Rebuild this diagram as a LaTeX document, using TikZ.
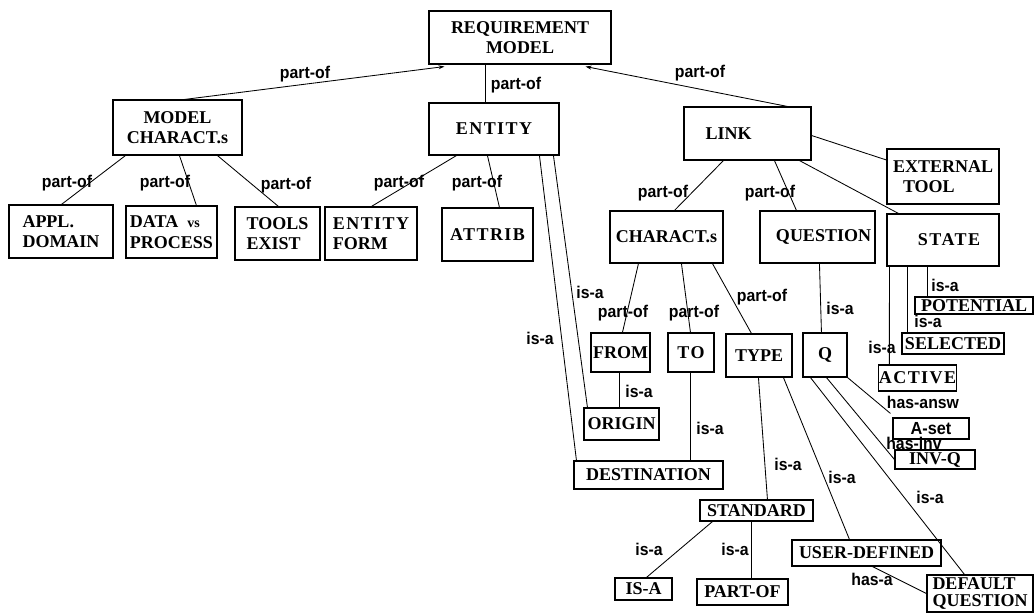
\documentclass[tikz,border=0pt]{standalone}
\usepackage{fontspec}
\setmainfont{Liberation Serif}
\newfontfamily\lblfamily{Liberation Sans}[FakeStretch=0.93]
\newcommand\spacedcaps{\addfontfeature{LetterSpace=8}}
\usetikzlibrary{arrows.meta}
\begin{document}
\begin{tikzpicture}[x=1pt,y=-1pt,
  box/.style={draw, line width=1.1pt, inner sep=0pt, align=center,
    font=\fontsize{18}{20.5}\selectfont\bfseries},
  sized/.style 2 args={minimum width=#1pt, minimum height=#2pt},
  rel/.style={line width=0.85pt},
  up/.style={rel, -{Stealth[length=6pt,width=4pt]}},
  lbl/.style={inner sep=0pt, font=\lblfamily\bfseries\fontsize{17}{18}\selectfont}
]
\useasboundingbox (0,0) rectangle (1035,613);

% ---- boxes ----
\node[box, sized={182}{53}] (req) at (520,37.5) {REQUIREMENT\\MODEL};
\node[box, sized={129}{55}] (mc) at (177.5,127.5) {MODEL\\CHARACT.s};
\node[box, sized={130}{52}] (ent) at (494,129) {\spacedcaps ENTITY};
\node[box, sized={127}{53}] (link) at (747.5,133.5) {LINK\hspace*{38pt}};
\node[box, sized={112}{55}, align=left] (ext) at (943,176.5) {EXTERNAL\\\hspace*{10pt}TOOL};
\node[box, sized={104}{53}, align=left] (appl) at (61,231.5) {APPL.\\DOMAIN};
\node[box, sized={91}{52}, align=left] (data) at (171.5,232) {DATA\ \ {\fontsize{14}{14}\selectfont vs}\\PROCESS};
\node[box, sized={85}{53}, align=left] (tools) at (277.5,233.5) {TOOLS\\EXIST};
\node[box, sized={92}{53}, align=left] (ef) at (371,233.5) {{\spacedcaps ENTITY}\\FORM};
\node[box, sized={91}{53}] (attrib) at (487.5,234.5) {\spacedcaps ATTRIB};
\node[box, sized={113}{52}] (ch) at (666.5,237) {CHARACT.s};
\node[box, sized={115}{52}] (qu) at (817.5,237) {\hspace*{12pt}QUESTION};
\node[box, sized={112}{52}] (state) at (943,240) {\hspace*{12pt}\spacedcaps STATE};
\node[box, sized={59}{39}] (from) at (620.5,352.5) {FROM};
\node[box, sized={46}{39}] (to) at (691,352.5) {\spacedcaps TO};
\node[box, sized={66}{43}] (type) at (759,355.5) {TYPE};
\node[box, sized={44}{44}] (q) at (825,355) {Q};
\node[box, sized={118}{17}] (pot) at (974,305.5) {POTENTIAL};
\node[box, sized={102}{21}] (sel) at (953,343.5) {SELECTED};
\node[box, sized={77}{26}] (act) at (917.5,378) {\spacedcaps ACTIVE};
\node[box, sized={76}{21}, font=\lblfamily\bfseries\fontsize{17.5}{17.5}\selectfont] (aset) at (931,428.5) {A-set};
\node[box, sized={80}{19}] (invq) at (935,459.5) {INV-Q};
\node[box, sized={75}{32}] (orig) at (621.5,424) {ORIGIN};
\node[box, sized={149}{28}] (dest) at (648.5,475) {DESTINATION};
\node[box, sized={113}{21}] (std) at (756.5,510.5) {STANDARD};
\node[box, sized={57}{22}] (isa) at (643.5,589) {IS-A};
\node[box, sized={91}{26}] (partof) at (742.5,592) {PART-OF};
\node[box, sized={149}{26}] (user) at (866.5,553) {USER-DEFINED};
\node[box, sized={106}{37}, align=left, font=\fontsize{18}{16.5}\selectfont\bfseries] (deflt) at (980,593.5) {DEFAULT\\QUESTION};

% ---- top level ----
\draw[up] ([xshift=72pt]mc.north west) -- ([xshift=16pt,yshift=-2pt]req.south west)
  node[lbl] at (305,74) {part-of};
\draw[rel] ([xshift=57pt]ent.north west) -- ([xshift=57pt]req.south west)
  node[lbl] at (516,85) {part-of};
\draw[up] ([xshift=104pt]link.north west) -- ([xshift=-26pt,yshift=-2pt]req.south east)
  node[lbl] at (700,73) {part-of};
\draw[rel] ([yshift=-2pt]link.east) -- ([yshift=16.5pt]ext.west);

% ---- model characteristics ----
\draw[rel] ([xshift=13pt]mc.south west) -- ([xshift=53pt]appl.north west)
  node[lbl] at (67,183) {part-of};
\draw[rel] ([xshift=67pt]mc.south west) -- ([xshift=71pt]data.north west)
  node[lbl] at (165,183) {part-of};
\draw[rel] ([xshift=105pt]mc.south west) -- ([xshift=44pt]tools.north west)
  node[lbl] at (286,185) {part-of};

% ---- entity ----
\draw[rel] ([xshift=28pt]ent.south west) -- ([xshift=47pt]ef.north west)
  node[lbl] at (399,183) {part-of};
\draw[rel] ([xshift=59pt]ent.south west) -- ([xshift=58pt]attrib.north west)
  node[lbl] at (477,183) {part-of};
\draw[rel] ([xshift=111pt]ent.south west) -- ([xshift=3pt]dest.north west)
  node[lbl] at (540,338) {is-a};
\draw[rel] ([xshift=125pt]ent.south west) -- ([xshift=4pt]orig.north west)
  node[lbl] at (590,292) {is-a};

% ---- link ----
\draw[rel] ([xshift=40pt]link.south west) -- ([xshift=65pt]ch.north west)
  node[lbl] at (663,193) {part-of};
\draw[rel] ([xshift=91pt]link.south west) -- ([xshift=37pt]qu.north west)
  node[lbl] at (770,193) {part-of};
\draw[rel] ([xshift=116pt]link.south west) -- ([xshift=12pt]state.north west);

% ---- characteristics ----
\draw[rel] ([xshift=29pt]ch.south west) -- ([xshift=32pt]from.north west)
  node[lbl] at (623,313) {part-of};
\draw[rel] ([xshift=72pt]ch.south west) -- ([xshift=23pt]to.north west)
  node[lbl] at (694,313) {part-of};
\draw[rel] ([xshift=103pt]ch.south west) -- ([xshift=26pt]type.north west)
  node[lbl] at (762,297) {part-of};
\draw[rel] ([xshift=29pt]from.south west) -- ([xshift=36pt]orig.north west)
  node[lbl] at (639,391) {is-a};
\draw[rel] ([xshift=23pt]to.south west) -- ([xshift=117pt]dest.north west)
  node[lbl] at (710,428) {is-a};
\draw[rel] ([xshift=33pt]type.south west) -- ([xshift=68pt]std.north west)
  node[lbl] at (788,464) {is-a};
\draw[rel] ([xshift=58pt]type.south west) -- ([xshift=58pt]user.north west)
  node[lbl] at (842,477) {is-a};
\draw[rel] ([xshift=13pt]std.south west) -- ([xshift=32pt]isa.north west)
  node[lbl] at (649,549) {is-a};
\draw[rel] ([xshift=52pt]std.south west) -- ([xshift=55pt]partof.north west)
  node[lbl] at (735,549) {is-a};
\draw[rel] ([xshift=81pt]user.south west) -- (deflt.west)
  node[lbl] at (872,579) {has-a};

% ---- question ----
\draw[rel] ([xshift=60pt]qu.south west) -- ([xshift=19pt]q.north west)
  node[lbl] at (840,308) {is-a};
\draw[rel] ([xshift=8pt]q.south west) -- ([xshift=38pt]deflt.north west)
  node[lbl] at (930,497) {is-a};
\draw[rel] ([xshift=24pt]q.south west) -- (invq.west)
  node[lbl] at (914,443) {has-inv};
\draw[rel] (q.south east) -- ([xshift=-2pt,yshift=4pt]aset.north west)
  node[lbl] at (923,402) {has-answ};

% ---- state ----
\draw[rel] ([xshift=41pt]state.south west) -- ([xshift=13pt]pot.north west)
  node[lbl] at (945,285) {is-a};
\draw[rel] ([xshift=21pt]state.south west) -- ([xshift=6pt]sel.north west)
  node[lbl] at (928,321) {is-a};
\draw[rel] ([xshift=3pt]state.south west) -- ([xshift=11pt]act.north west)
  node[lbl] at (882,347) {is-a};
\end{tikzpicture}
\end{document}
